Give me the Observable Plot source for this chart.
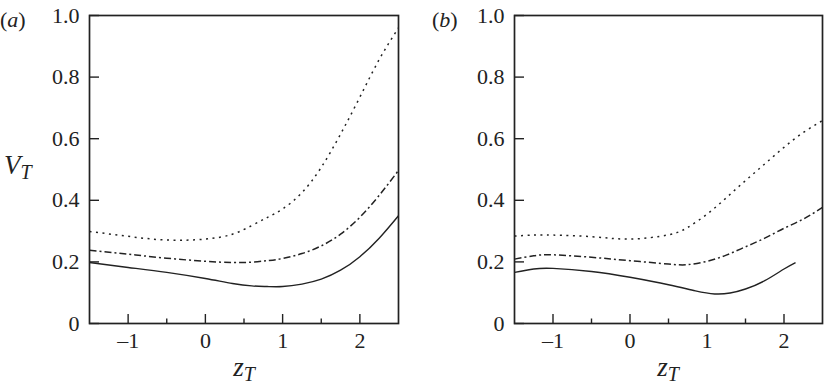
<!DOCTYPE html>
<html>
<head>
<meta charset="utf-8">
<script src="https://cdn.jsdelivr.net/npm/d3@7"></script>
<script src="https://cdn.jsdelivr.net/npm/@observablehq/plot@0.6"></script>
<style>
  html, body { margin: 0; padding: 0; background: #fff; }
  #fig { position: relative; width: 825px; height: 385px; font-family: "Liberation Serif", "Times New Roman", Times, serif; color: #222; }
  .panel { position: absolute; top: 0; }
  .lab { position: absolute; line-height: 1; white-space: nowrap; }
  .sub { font-size: 20px; vertical-align: -5px; font-style: italic; }
</style>
</head>
<body>
<div id="fig">
  <div id="pa" class="panel" style="left:0px"></div>
  <div id="pb" class="panel" style="left:412px"></div>
  <div class="lab" style="left:0px;top:9px;font-size:22px">(<i>a</i>)</div>
  <div class="lab" style="left:432px;top:9px;font-size:22px">(<i>b</i>)</div>
  <div class="lab" style="left:4px;top:152px;font-size:27px"><i>V</i><span class="sub">T</span></div>
  <div class="lab" style="left:194px;top:354px;width:100px;text-align:center;font-size:27px"><i>z</i><span class="sub">T</span></div>
  <div class="lab" style="left:618px;top:354px;width:100px;text-align:center;font-size:27px"><i>z</i><span class="sub">T</span></div>
</div>
<script>
// ---- data ----
const xTicks = [-1, 0, 1, 2];
const xTickLabels = ["\u20131", "0", "1", "2"];
const xMinorTicks = [-0.5, 0.5, 1.5];
const yTicks = [0, 0.2, 0.4, 0.6, 0.8, 1.0];
const yTickLabels = ["0", "0.2", "0.4", "0.6", "0.8", "1.0"];

// panel (a)
const zA       = [-1.5, -1, -0.5, 0, 0.35, 0.6, 0.8, 1, 1.25, 1.5, 1.75, 2, 2.25, 2.5];
const dottedA  = [0.299, 0.283, 0.271, 0.274, 0.290, 0.318, 0.344, 0.372, 0.425, 0.507, 0.615, 0.735, 0.857, 0.960];
const dashDotA = [0.238, 0.225, 0.212, 0.202, 0.198, 0.199, 0.204, 0.211, 0.227, 0.252, 0.290, 0.345, 0.416, 0.497];
const solidA   = [0.198, 0.182, 0.166, 0.146, 0.130, 0.122, 0.120, 0.120, 0.128, 0.144, 0.173, 0.217, 0.277, 0.350];

// panel (b)
const zB       = [-1.5, -1.25, -1, -0.5, 0, 0.5, 0.75, 1, 1.25, 1.5, 1.75, 2, 2.25, 2.5];
const dottedB  = [0.284, 0.287, 0.287, 0.282, 0.274, 0.288, 0.312, 0.355, 0.408, 0.464, 0.518, 0.572, 0.620, 0.659];
const dashDotB = [0.209, 0.220, 0.223, 0.215, 0.204, 0.193, 0.191, 0.202, 0.222, 0.249, 0.277, 0.309, 0.339, 0.377];
const zBSolid  = [-1.5, -1.25, -1, -0.5, 0, 0.5, 0.85, 1.1, 1.3, 1.5, 1.75, 2, 2.15];
const solidB   = [0.166, 0.177, 0.179, 0.169, 0.150, 0.126, 0.106, 0.096, 0.099, 0.112, 0.139, 0.177, 0.198];

const ink = "#222";
const serif = "Liberation Serif, Times New Roman, Times, serif";
const toRows = (xs, ys) => xs.map((x, i) => ({z: x, v: ys[i]}));

function panel(series, marginLeft, marginRight, width) {
  const lineMarks = series.map(s => Plot.line(toRows(s.z, s.v), {
    x: "z", y: "v", curve: "natural", stroke: ink,
    strokeWidth: s.w, strokeDasharray: s.dash, strokeLinecap: "butt"
  }));
  return Plot.plot({
    width, height: 385,
    marginLeft, marginRight, marginTop: 15, marginBottom: 62,
    style: {fontFamily: serif, fontSize: "22px", color: ink, background: "white"},
    x: {domain: [-1.5, 2.5], label: null},
    y: {domain: [0, 1], label: null},
    marks: [
      ...lineMarks,
      Plot.axisX(xTicks, {tickSize: 0, tickPadding: 9, tickFormat: (d, i) => xTickLabels[i], label: null, fill: ink, fontSize: 22, fontFamily: serif}),
      Plot.axisX(xTicks, {tickSize: -9, fill: "none", stroke: ink, strokeWidth: 1.4, label: null}),
      Plot.axisX(xMinorTicks, {tickSize: -4.5, fill: "none", stroke: ink, strokeWidth: 1.4, label: null}),
      Plot.axisY(yTicks, {tickSize: 0, tickPadding: 10, tickFormat: (d, i) => yTickLabels[i], label: null, fill: ink, fontSize: 22, fontFamily: serif}),
      Plot.axisY(yTicks, {tickSize: -10, fill: "none", stroke: ink, strokeWidth: 1.4, label: null}),
      Plot.frame({stroke: ink, strokeWidth: 1.7})
    ]
  });
}

document.getElementById("pa").append(panel([
  {z: zA, v: dottedA, dash: "2,4.5", w: 1.5},
  {z: zA, v: dashDotA, dash: "7,3,2,3", w: 1.5},
  {z: zA, v: solidA, dash: null, w: 1.4}
], 89, 14, 412));

document.getElementById("pb").append(panel([
  {z: zB, v: dottedB, dash: "2,4.5", w: 1.5},
  {z: zB, v: dashDotB, dash: "7,3,2,3", w: 1.5},
  {z: zBSolid, v: solidB, dash: null, w: 1.4}
], 102, 3, 413));
</script>
</body>
</html>
